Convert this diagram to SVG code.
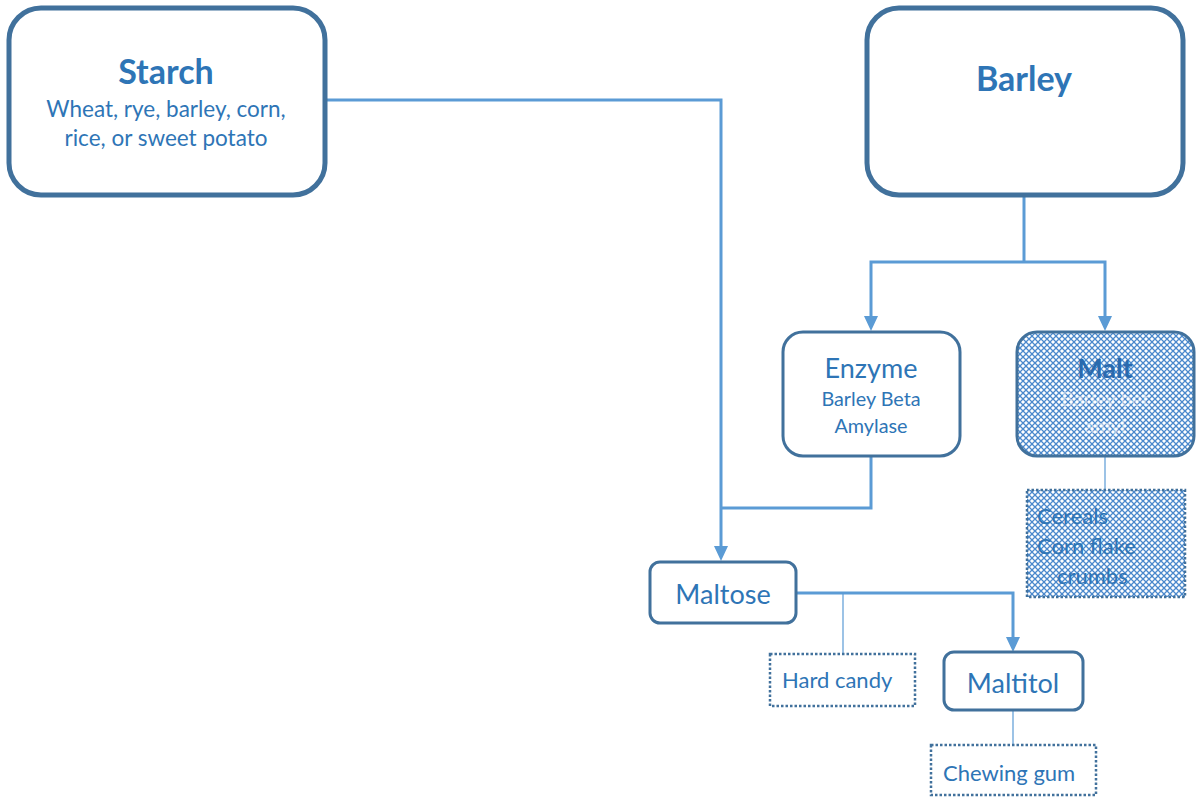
<svg xmlns="http://www.w3.org/2000/svg" width="1196" height="801" viewBox="0 0 1196 801">
<defs>
<style>
.box{fill:#fff;stroke:#41719c}
.big{stroke-width:5}
.mid{stroke-width:3}
.dot{fill:#fff;stroke:#41719c;stroke-width:2.5;stroke-dasharray:2.5 2}
.t{font-family:Lato,"Liberation Sans",sans-serif;fill:#2e75b6}
.c{text-anchor:middle}
.b{font-weight:bold}
.conn{fill:none;stroke:#5b9bd5;stroke-width:3}
.thin{fill:none;stroke:#5b9bd5;stroke-width:1.2}
.ah{fill:#5b9bd5}
</style>
<pattern id="pat" width="6" height="6" patternUnits="userSpaceOnUse">
<rect width="6" height="6" fill="#ffffff"/>
<path d="M0,0 L6,6 M6,0 L0,6" stroke="#4a88cc" stroke-width="1.3"/>
</pattern>
</defs>
<g id="connectors">
<path class="conn" d="M325,100 H721 V550"/>
<path class="conn" d="M871,457 V508 H721"/>
<path class="conn" d="M1024,195 V262"/>
<path class="conn" d="M1024,262 H871 V320"/>
<path class="conn" d="M1024,262 H1105 V320"/>
<path class="thin" d="M1105,457 V490"/>
<path class="conn" d="M796,593 H1013 V641"/>
<path class="thin" d="M843,593 V653"/>
<path class="thin" d="M1013,710 V745"/>
<path class="ah" d="M714,546 L728,546 L721,561 Z"/>
<path class="ah" d="M864,316 L878,316 L871,331 Z"/>
<path class="ah" d="M1098,316 L1112,316 L1105,331 Z"/>
<path class="ah" d="M1006,637 L1020,637 L1013,652 Z"/>
</g>
<g id="starch">
<rect class="box big" x="9" y="8" width="316" height="187" rx="32"/>
<text class="t c b" x="166" y="84" font-size="34">Starch</text>
<text class="t c" x="166" y="117" font-size="22.5">Wheat, rye, barley, corn,</text>
<text class="t c" x="166" y="146" font-size="22.5">rice, or sweet potato</text>
</g>
<g id="barley">
<rect class="box big" x="867" y="8" width="316" height="187" rx="32"/>
<text class="t c b" x="1024" y="91" font-size="34">Barley</text>
</g>
<g id="enzyme">
<rect class="box mid" x="783" y="332" width="177" height="124" rx="20"/>
<text class="t c" x="871" y="378" font-size="27">Enzyme</text>
<text class="t c" x="871" y="406" font-size="19.8">Barley Beta</text>
<text class="t c" x="871" y="433" font-size="19.8">Amylase</text>
</g>
<g id="malt">
<rect x="1017" y="332" width="177" height="124" rx="20" fill="url(#pat)" stroke="#41719c" stroke-width="3"/>
<text class="t c b" x="1105" y="378" font-size="27" fill="#2a6aae" style="fill:#2a6aae">Malt</text>
<text x="1105" y="406" font-size="19.8" text-anchor="middle" font-family="Lato,'Liberation Sans',sans-serif" fill="#fff" fill-opacity="0.55">Barley bet</text>
<text x="1105" y="433" font-size="19.8" text-anchor="middle" font-family="Lato,'Liberation Sans',sans-serif" fill="#fff" fill-opacity="0.55">amyl</text>
</g>
<g id="cereals">
<rect x="1027" y="490" width="158" height="107" fill="url(#pat)" stroke="#41719c" stroke-width="2.5" stroke-dasharray="2.5 2"/>
<text class="t" x="1037" y="524" font-size="22">Cereals</text>
<text class="t" x="1037" y="554" font-size="22">Corn flake</text>
<text class="t" x="1057" y="584" font-size="22">crumbs</text>
</g>
<g id="maltose">
<rect class="box mid" x="650" y="562" width="146" height="61" rx="10"/>
<text class="t c" x="723" y="604" font-size="27">Maltose</text>
</g>
<g id="hardcandy">
<rect class="dot" x="770" y="654" width="145" height="52"/>
<text class="t" x="782" y="688" font-size="22">Hard candy</text>
</g>
<g id="maltitol">
<rect class="box mid" x="944" y="652" width="139" height="58" rx="10"/>
<text class="t c" x="1013" y="693" font-size="27">Maltitol</text>
</g>
<g id="chewinggum">
<rect class="dot" x="931" y="745" width="165" height="50"/>
<text class="t" x="943" y="781" font-size="22">Chewing gum</text>
</g>
</svg>
